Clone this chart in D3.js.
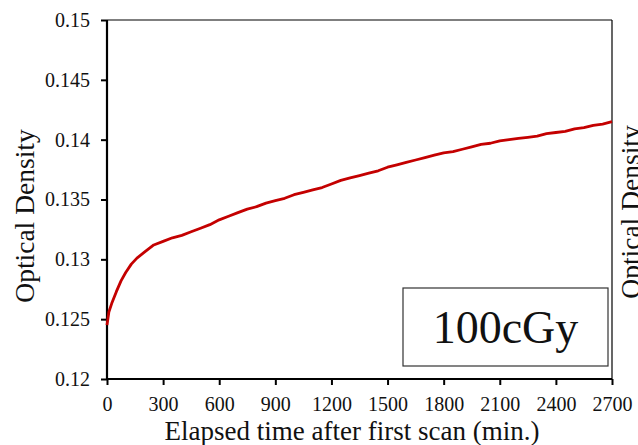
<!DOCTYPE html>
<html><head><meta charset="utf-8">
<script src="https://cdn.jsdelivr.net/npm/d3@7"></script>
<style>
html,body{margin:0;padding:0;background:#fff;}
svg{display:block;font-family:"Liberation Serif","Times New Roman",serif;}
</style></head>
<body>
<svg id="c" width="638" height="445"></svg>
<script>
const times = [0,10,25,50,75,100,130,160,200,250,300,350,400,450,500,550,600,650,700,750,800,850,900,950,1000,1050,1100,1150,1200,1250,1300,1350,1400,1450,1500,1550,1600,1650,1700,1750,1800,1850,1900,1950,2000,2050,2100,2150,2200,2250,2300,2350,2400,2450,2500,2550,2600,2650,2700];
const density = [0.1245,0.1256,0.1263,0.1273,0.1282,0.1289,0.1296,0.1301,0.1306,0.1312,0.1315,0.1318,0.1320,0.1323,0.1326,0.1329,0.1333,0.1336,0.1339,0.1342,0.1344,0.1347,0.1349,0.1351,0.1354,0.1356,0.1358,0.1360,0.1363,0.1366,0.1368,0.1370,0.1372,0.1374,0.1377,0.1379,0.1381,0.1383,0.1385,0.1387,0.1389,0.1390,0.1392,0.1394,0.1396,0.1397,0.1399,0.1400,0.1401,0.1402,0.1403,0.1405,0.1406,0.1407,0.1409,0.1410,0.1412,0.1413,0.1415];
const xTicks = [0,300,600,900,1200,1500,1800,2100,2400,2700];
const yTicks = [0.12,0.125,0.13,0.135,0.14,0.145,0.15];
const yTickLabels = ["0.12","0.125","0.13","0.135","0.14","0.145","0.15"];
const legendLabel = "100cGy";
const xTitle = "Elapsed time after first scan (min.)";
const yTitle = "Optical Density";

const svg = d3.select("#c");
const L=107, R=612, T=20, B=379;
const x = d3.scaleLinear().domain([0,2700]).range([L,R]);
const y = d3.scaleLinear().domain([0.12,0.15]).range([B,T]);

// frame top/right
svg.append("line").attr("x1",L).attr("x2",R).attr("y1",T).attr("y2",T).attr("stroke","#000").attr("stroke-width",1.2);
svg.append("line").attr("x1",R).attr("x2",R).attr("y1",T).attr("y2",B).attr("stroke","#000").attr("stroke-width",1.2);

// y axis
const ya = svg.append("g").attr("transform",`translate(${L},0)`)
  .call(d3.axisLeft(y).tickValues(yTicks).tickFormat((d,i)=>yTickLabels[i]).tickSize(6).tickPadding(11));
ya.select(".domain").attr("stroke-width",2.2).attr("d",`M0,${T}V${B}`);
ya.selectAll(".tick line").attr("stroke-width",2);
ya.selectAll(".tick text").attr("font-size",20).attr("font-family","Liberation Serif, Times New Roman, serif").attr("fill","#111");

// x axis
const xa = svg.append("g").attr("transform",`translate(0,${B})`)
  .call(d3.axisBottom(x).tickValues(xTicks).tickFormat(d3.format("d")).tickSize(6).tickPadding(12));
xa.select(".domain").attr("stroke-width",2.2).attr("d",`M${L},0H${R}`);
xa.selectAll(".tick line").attr("stroke-width",2);
xa.selectAll(".tick text").attr("font-size",20).attr("font-family","Liberation Serif, Times New Roman, serif").attr("fill","#111");

// line
const pts = times.map((t,i)=>[t,density[i]]);
svg.append("path").datum(pts)
  .attr("fill","none").attr("stroke","#c40000").attr("stroke-width",2.8).attr("stroke-linejoin","round")
  .attr("d", d3.line().x(d=>x(d[0])).y(d=>y(d[1])));

// titles
svg.append("text").attr("x",352).attr("y",440).attr("text-anchor","middle")
  .attr("font-size",27).attr("fill","#111").text(xTitle);
svg.append("text").attr("transform",`translate(34,216) rotate(-90)`).attr("text-anchor","middle")
  .attr("font-size",27.5).attr("fill","#111").text(yTitle);
svg.append("text").attr("transform",`translate(640,212) rotate(-90)`).attr("text-anchor","middle")
  .attr("font-size",27.5).attr("fill","#111").text(yTitle);

// legend box
svg.append("rect").attr("x",403).attr("y",288).attr("width",205).attr("height",78)
  .attr("fill","#fff").attr("stroke","#333").attr("stroke-width",1.2);
svg.append("text").attr("x",505.5).attr("y",343).attr("text-anchor","middle")
  .attr("font-size",46).attr("fill","#111").text(legendLabel);
</script>
</body></html>
